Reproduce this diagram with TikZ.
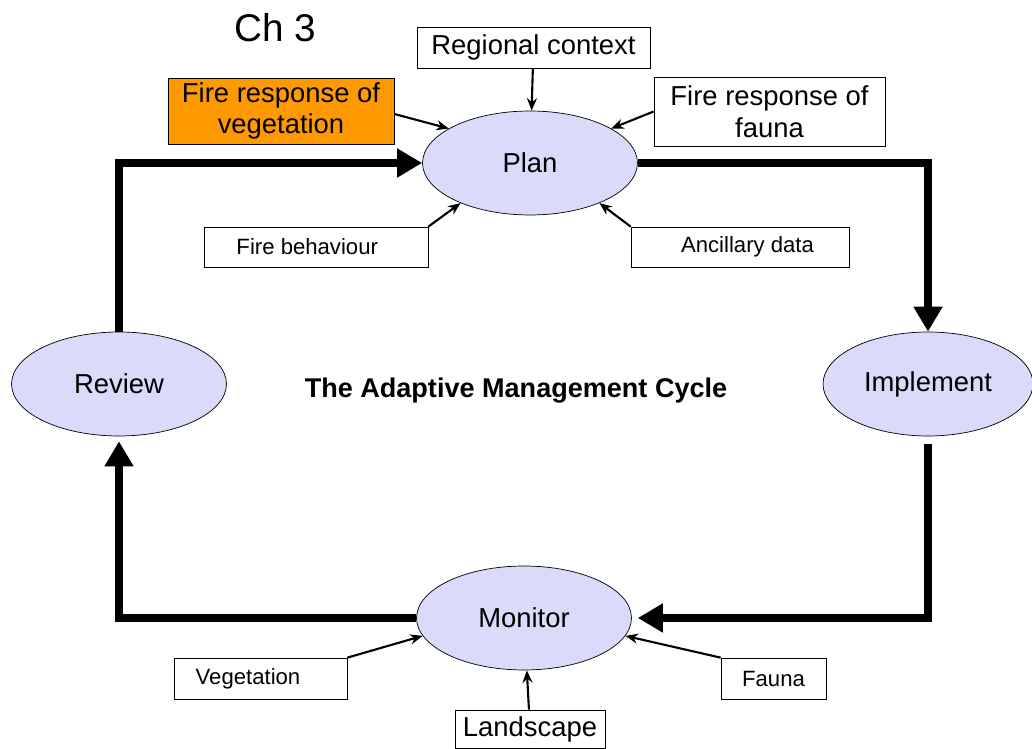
\documentclass[tikz,border=0pt]{standalone}
\usepackage{fontspec}
\setmainfont{Liberation Sans}
\usetikzlibrary{arrows.meta,shapes.geometric}
\definecolor{stagefill}{RGB}{218,218,250}
\definecolor{fireorange}{RGB}{255,153,0}

\begin{document}
\begin{tikzpicture}[x=0.02cm, y=-0.02cm,
    stage/.style={ellipse, draw, fill=stagefill, inner sep=0pt, minimum width=4.3cm, minimum height=2.08cm, font=\fontsize{15.6}{18}\selectfont},
    bigbox/.style={draw, inner sep=0pt, align=center, font=\fontsize{15.6}{18}\selectfont},
    smallbox/.style={draw, inner sep=0pt, align=center, font=\fontsize{12.6}{15}\selectfont},
    cycle/.style={line width=4pt, -{Triangle[length=0.5cm, width=0.55cm]}},
    feed/.style={line width=1.2pt, -{Stealth[length=0.25cm, width=0.2cm]}}]
    \useasboundingbox (0,0) rectangle (1032,749);

    \node[anchor=base, font=\fontsize{22}{26}\selectfont] (ch) at (275, 42) {Ch 3};
    \node[anchor=base, font=\bfseries\fontsize{15.4}{18}\selectfont] (title) at (516, 398) {The Adaptive Management Cycle};

    \node[stage] (plan) at (530, 163) {Plan};
    \node[stage] (review) at (119, 384) {Review};
    \node[stage, minimum width=4.2cm] (implement) at (928, 384) {Implement};
    \node[stage] (monitor) at (524, 618) {Monitor};

    \node[bigbox, minimum width=4.66cm, minimum height=0.82cm] (regional) at (533.5, 47.5) {Regional context};
    \node[bigbox, fill=fireorange, minimum width=4.52cm, minimum height=1.32cm] (firevege) at (281, 111) {Fire response of\\vegetation};
    \node[bigbox, fill=white, minimum width=4.62cm, minimum height=1.38cm] (firefauna) at (769.5, 111.5) {Fire response of\\fauna};
    \node[smallbox, minimum width=4.48cm, minimum height=0.8cm] (behaviour) at (316, 247) {Fire behaviour\hspace{0.35cm}};
    \node[smallbox, minimum width=4.36cm, minimum height=0.8cm] (ancillary) at (740, 247) {\hspace{0.3cm}Ancillary data};
    \node[smallbox, minimum width=3.46cm, minimum height=0.82cm] (vege) at (260.5, 678.5) {Vegetation\hspace{0.5cm}};
    \node[smallbox, minimum width=2.1cm, minimum height=0.82cm] (fauna) at (773.5, 678.5) {Fauna};
    \node[bigbox, minimum width=3.0cm, minimum height=0.76cm] (landscape) at (530, 729) {Landscape};

    % サイクルの矢印
    \draw[cycle] (review.north) -- (review.north |- plan.west) -- (plan.west);
    \draw[cycle] (plan.east) -- (implement.north |- plan.east) -- (implement.north);
    \draw[cycle, shorten <=0.16cm, shorten >=0.12cm] (implement.south) -- (implement.south |- monitor.east) -- (monitor.east);
    \draw[cycle, shorten >=0.1cm] (monitor.west) -- (review.south |- monitor.west) -- (review.south);

    % 入力の矢印
    \draw[feed] (regional) -- (plan);
    \draw[feed] (firevege.east) ++(0,3) -- (plan.157);
    \draw[feed] (firefauna.west) -- (plan.23);
    \draw[feed] (behaviour.north east) -- (plan.210);
    \draw[feed] (ancillary.north west) -- (plan.330);
    \draw[feed] (vege.north east) -- (monitor.190);
    \draw[feed] (fauna.north west) -- (monitor.350);
    \draw[feed] (landscape) -- (monitor);
\end{tikzpicture}
\end{document}
